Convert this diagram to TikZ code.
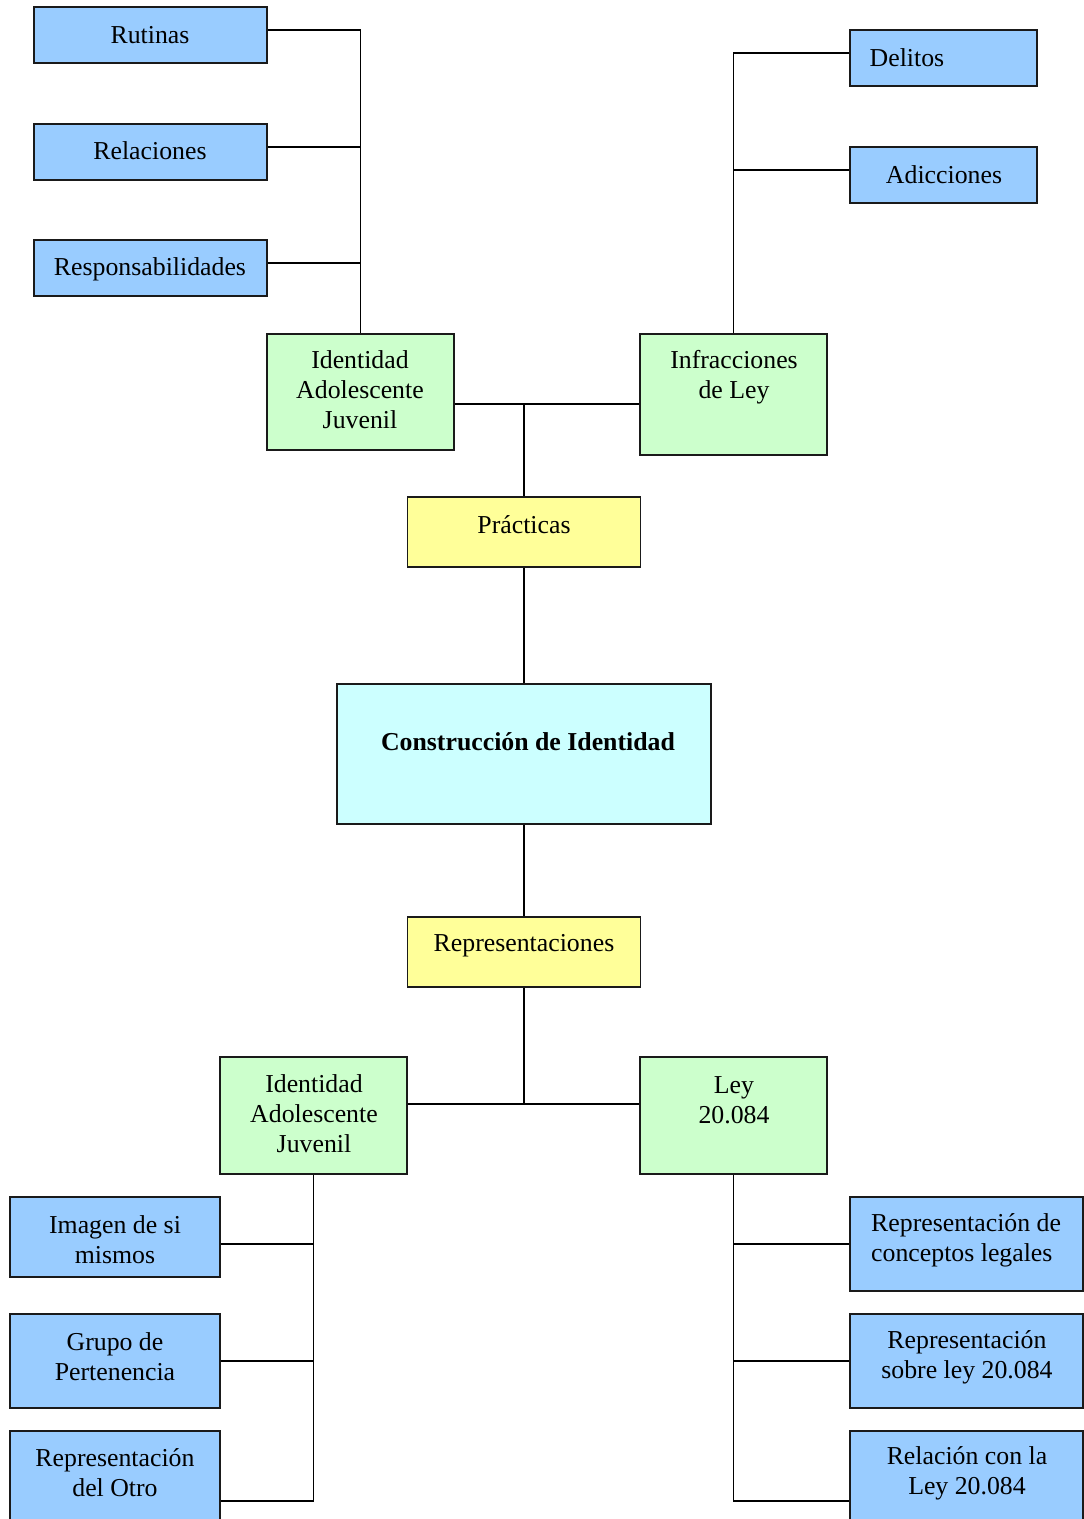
\documentclass[tikz,border=0pt]{standalone}
\usepackage{fontspec}
\setmainfont{Liberation Serif}
\definecolor{cblue}{HTML}{99CCFF}
\definecolor{cgreen}{HTML}{CCFFCC}
\definecolor{cyellow}{HTML}{FFFF99}
\definecolor{ccyan}{HTML}{CCFFFF}
\definecolor{bord}{HTML}{1A1A1A}
\tikzset{
  box/.style={draw=bord, line width=1.8pt, inner sep=0pt, minimum width=#1},
  bluebox/.style={box=#1, fill=cblue},
  greenbox/.style={box=187pt, fill=cgreen, minimum height=117pt},
  yellowbox/.style={box=233pt, fill=cyellow, minimum height=70pt},
  txt/.style={inner sep=0pt, align=center, font=\fontsize{25.8pt}{30pt}\selectfont},
  conn/.style={draw=black, line width=1.8pt},
}
\begin{document}
\begin{tikzpicture}[x=1pt, y=-1pt]
\useasboundingbox (0,0) rectangle (1084,1519);
% top left leaves
\node[bluebox=233pt, minimum height=56pt] (rut) at (150.5,35) {};
\node[bluebox=233pt, minimum height=56pt] (rel) at (150.5,152) {};
\node[bluebox=233pt, minimum height=56pt] (resp) at (150.5,268) {};
\node[txt] (trut) at (150,35) {Rutinas};
\node[txt] (trel) at (150,151) {Relaciones};
\node[txt] (tresp) at (150,269) {Responsabilidades};
% top right leaves
\node[bluebox=187pt, minimum height=56pt] (del) at (943.5,58) {};
\node[bluebox=187pt, minimum height=56pt] (adi) at (943.5,175) {};
\node[txt] (tdel) at (907,58) {Delitos};
\node[txt] (tadi) at (944,175) {Adicciones};
% second level top
\node[greenbox, minimum height=116pt] (idA) at (360.5,392) {};
\node[greenbox, minimum height=121pt] (inf) at (733.5,394.5) {};
\node[txt] (tidA) at (360,390) {Identidad\\Adolescente\\Juvenil};
\node[txt] (tinf) at (734,377) {Infracciones\\de Ley};
% center
\node[yellowbox] (pra) at (524,532) {};
\node[txt] (tpra) at (524,525) {Prácticas};
\node[box=374pt, fill=ccyan, minimum height=140pt] (con) at (524,754) {};
\node[txt, font=\fontsize{25.8pt}{30pt}\selectfont\bfseries] (tcon) at (528,742) {Construcción de Identidad};
\node[yellowbox] (rep) at (524,952) {};
\node[txt] (trep) at (524,946) {Representaciones};
% second level bottom
\node[greenbox] (idB) at (313.5,1115.5) {};
\node[greenbox] (ley) at (733.5,1115.5) {};
\node[txt] (tidB) at (314,1114) {Identidad\\Adolescente\\Juvenil};
\node[txt] (tley) at (734,1100) {Ley\\20.084};
% bottom left leaves
\node[bluebox=210pt, minimum height=80pt] (img) at (115,1237) {};
\node[bluebox=210pt, minimum height=94pt] (gru) at (115,1361) {};
\node[bluebox=210pt, minimum height=140pt] (otr) at (115,1501) {};
\node[txt] (timg) at (115,1240) {Imagen de si\\mismos};
\node[txt] (tgru) at (115,1357) {Grupo de\\Pertenencia};
\node[txt] (totr) at (115,1473) {Representación\\del Otro};
% bottom right leaves
\node[bluebox=233pt, minimum height=94pt] (cpt) at (966.5,1244) {};
\node[bluebox=233pt, minimum height=94pt] (sob) at (966.5,1361) {};
\node[bluebox=233pt, minimum height=140pt] (rlc) at (966.5,1501) {};
\node[txt, align=left, anchor=west] (tcpt) at (871,1240) {Representación de\\conceptos legales};
\node[txt] (tsob) at (967,1357) {Representación\\sobre ley 20.084};
\node[txt] (trlc) at (967,1473) {Relación con la\\Ley 20.084};
% junctions
\coordinate (j1) at (524,404);
\coordinate (j2) at (524,1104);
% connectors top
\draw[conn] ([yshift=5pt]rut.east) -| (idA.north);
\draw[conn] ([yshift=5pt]rel.east) -- ([yshift=5pt]rel.east -| idA.north);
\draw[conn] ([yshift=5pt]resp.east) -- ([yshift=5pt]resp.east -| idA.north);
\draw[conn] ([yshift=5pt]del.west) -| (inf.north);
\draw[conn] ([yshift=5pt]adi.west) -- ([yshift=5pt]adi.west -| inf.north);
\draw[conn] (idA.east |- j1) -- (inf.west |- j1);
\draw[conn] (j1) -- (pra.north);
\draw[conn] (pra.south) -- (con.north);
\draw[conn] (con.south) -- (rep.north);
\draw[conn] (rep.south) -- (j2);
\draw[conn] (idB.east |- j2) -- (ley.west |- j2);
% connectors bottom
\draw[conn] (idB.south) |- (otr.east);
\draw[conn] ([yshift=-7pt]img.east) -- ([yshift=-7pt]img.east -| idB.south);
\draw[conn] (gru.east) -- (gru.east -| idB.south);
\draw[conn] (ley.south) |- (rlc.west);
\draw[conn] (cpt.west) -- (cpt.west -| ley.south);
\draw[conn] (sob.west) -- (sob.west -| ley.south);
\end{tikzpicture}
\end{document}
